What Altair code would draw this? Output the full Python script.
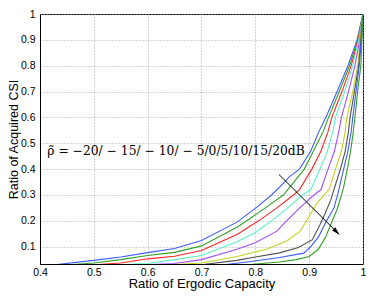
import altair as alt
import pandas as pd

# ---- data ----
series_names = ["-20dB", "-15dB", "-10dB", "-5dB", "0dB", "5dB", "10dB", "15dB", "20dB"]
series_colors = ["#3d5cff", "#33a02c", "#ff2626", "#5cf2c6", "#a64dff", "#c4d21f", "#505050", "#3d5cff", "#33a02c"]

x_m20 = [0.428, 0.5, 0.55, 0.6, 0.65, 0.7, 0.766, 0.803, 0.830, 0.850, 0.863, 0.882, 0.903, 0.918, 0.931, 0.952, 0.972, 0.989, 1.0]
y_m20 = [0.03, 0.047, 0.060, 0.077, 0.093, 0.124, 0.195, 0.253, 0.300, 0.340, 0.370, 0.400, 0.470, 0.545, 0.600, 0.700, 0.800, 0.900, 1.0]

x_m15 = [0.455, 0.5, 0.55, 0.6, 0.65, 0.7, 0.766, 0.784, 0.822, 0.852, 0.891, 0.908, 0.926, 0.936, 0.956, 0.975, 0.990, 1.0]
y_m15 = [0.03, 0.037, 0.050, 0.066, 0.078, 0.103, 0.175, 0.200, 0.255, 0.300, 0.400, 0.470, 0.545, 0.600, 0.700, 0.800, 0.900, 1.0]

x_m10 = [0.501, 0.55, 0.6, 0.65, 0.7, 0.766, 0.806, 0.840, 0.871, 0.882, 0.905, 0.922, 0.935, 0.942, 0.961, 0.978, 0.991, 1.0]
y_m10 = [0.03, 0.037, 0.053, 0.063, 0.085, 0.147, 0.200, 0.250, 0.300, 0.321, 0.400, 0.470, 0.545, 0.600, 0.700, 0.800, 0.900, 1.0]

x_m5 = [0.541, 0.6, 0.65, 0.7, 0.766, 0.800, 0.830, 0.860, 0.888, 0.903, 0.920, 0.934, 0.944, 0.949, 0.966, 0.981, 0.992, 1.0]
y_m5 = [0.03, 0.035, 0.050, 0.066, 0.119, 0.155, 0.200, 0.250, 0.300, 0.321, 0.400, 0.470, 0.545, 0.600, 0.700, 0.800, 0.900, 1.0]

x_0 = [0.596, 0.65, 0.7, 0.766, 0.800, 0.840, 0.858, 0.885, 0.909, 0.922, 0.935, 0.947, 0.955, 0.960, 0.973, 0.985, 0.994, 1.0]
y_0 = [0.03, 0.035, 0.050, 0.090, 0.115, 0.160, 0.200, 0.255, 0.300, 0.321, 0.400, 0.470, 0.545, 0.600, 0.700, 0.800, 0.900, 1.0]

x_5 = [0.644, 0.7, 0.766, 0.822, 0.858, 0.883, 0.895, 0.915, 0.928, 0.937, 0.949, 0.960, 0.967, 0.970, 0.981, 0.990, 0.995, 1.0]
y_5 = [0.03, 0.037, 0.062, 0.091, 0.122, 0.159, 0.200, 0.270, 0.300, 0.321, 0.400, 0.470, 0.545, 0.600, 0.700, 0.800, 0.900, 1.0]

x_10 = [0.699, 0.766, 0.800, 0.845, 0.880, 0.906, 0.920, 0.930, 0.940, 0.946, 0.958, 0.967, 0.973, 0.976, 0.984, 0.992, 0.996, 1.0]
y_10 = [0.03, 0.047, 0.060, 0.076, 0.097, 0.127, 0.185, 0.230, 0.280, 0.321, 0.400, 0.470, 0.545, 0.600, 0.700, 0.800, 0.900, 1.0]

x_15 = [0.742, 0.785, 0.845, 0.890, 0.903, 0.918, 0.931, 0.946, 0.954, 0.964, 0.972, 0.978, 0.981, 0.987, 0.993, 0.997, 1.0]
y_15 = [0.03, 0.041, 0.058, 0.075, 0.100, 0.140, 0.195, 0.250, 0.310, 0.400, 0.470, 0.545, 0.600, 0.700, 0.800, 0.900, 1.0]

x_20 = [0.784, 0.845, 0.876, 0.900, 0.917, 0.930, 0.943, 0.952, 0.960, 0.964, 0.971, 0.977, 0.982, 0.985, 0.990, 0.996, 0.998, 1.0]
y_20 = [0.03, 0.041, 0.050, 0.062, 0.090, 0.135, 0.200, 0.245, 0.300, 0.330, 0.400, 0.470, 0.545, 0.600, 0.700, 0.800, 0.900, 1.0]

x_ticks = [0.4, 0.5, 0.6, 0.7, 0.8, 0.9, 1.0]
y_ticks = [0.1, 0.2, 0.3, 0.4, 0.5, 0.6, 0.7, 0.8, 0.9, 1.0]

annot_text = "ρ\u0303 = −20/ − 15/ − 10/ − 5/0/5/10/15/20dB"
annot_pos = [0.4135, 0.47]
arrow_start = [0.844, 0.379]
arrow_end = [0.956, 0.147]

# ---- build table ----
xs = [x_m20, x_m15, x_m10, x_m5, x_0, x_5, x_10, x_15, x_20]
ys = [y_m20, y_m15, y_m10, y_m5, y_0, y_5, y_10, y_15, y_20]
rows = []
for name, xv, yv in zip(series_names, xs, ys):
    for i, (a, b) in enumerate(zip(xv, yv)):
        rows.append({"series": name, "x": a, "y": b, "i": i})
df = pd.DataFrame(rows)

xscale = alt.Scale(domain=[0.4, 1.0], nice=False, zero=False)
yscale = alt.Scale(domain=[0.033, 1.0], nice=False, zero=False)
lab = "datum.value == 1 ? '1' : format(datum.value, '.1f')"
x_axis = alt.Axis(values=x_ticks, labelExpr=lab, title="Ratio of Ergodic Capacity",
                  labelFlush=False, labelOverlap=False, labelPadding=3, titlePadding=0)
y_axis = alt.Axis(values=y_ticks, labelExpr=lab, title="Ratio of Acquired CSI",
                  labelOverlap=False, labelPadding=5, titleX=-19.5, titleFontSize=12.5)

def X():
    return alt.X("x:Q", scale=xscale, axis=x_axis)

def Y():
    return alt.Y("y:Q", scale=yscale, axis=y_axis)

lines = alt.Chart(df).mark_line(strokeWidth=1.1, clip=True).encode(
    x=X(), y=Y(),
    color=alt.Color("series:N", scale=alt.Scale(domain=series_names, range=series_colors), legend=None),
    detail="series:N",
    order="i:Q",
)

text_df = pd.DataFrame({"x": [annot_pos[0]], "y": [annot_pos[1]], "t": [annot_text]})
text = alt.Chart(text_df).mark_text(
    align="left", baseline="middle", font="DejaVu Serif", fontSize=12.3, color="black"
).encode(x=X(), y=Y(), text="t:N")

arrow_df = pd.DataFrame({"x": [arrow_start[0]], "y": [arrow_start[1]],
                         "x2": [arrow_end[0]], "y2": [arrow_end[1]]})
arrow_line = alt.Chart(arrow_df).mark_rule(color="black", strokeWidth=1).encode(
    x=X(), y=Y(), x2="x2:Q", y2="y2:Q")
head_df = pd.DataFrame({"x": [arrow_end[0]], "y": [arrow_end[1]]})
arrow_head = alt.Chart(head_df).mark_point(
    shape="M0,0L0.45,1.6L-0.45,1.6Z", filled=True, color="black", opacity=1,
    size=100, angle=135.5
).encode(x=X(), y=Y())

chart = alt.layer(lines, text, arrow_line, arrow_head).properties(
    width=323, height=250,
    autosize="none",
    padding={"left": 32, "top": 6, "right": 3, "bottom": 28},
).configure_view(
    stroke="black", strokeWidth=1
).configure_axis(
    labelFont="Liberation Sans", labelFontSize=10.5, labelColor="black",
    titleFont="Liberation Sans", titleFontSize=13, titleFontWeight="normal", titleColor="black",
    grid=True, gridDash=[1, 2], gridColor="#a8a8a8", gridOpacity=1, gridWidth=1,
    domainColor="black", ticks=False, labelOverlap=False,
)

chart.save("out.html", embed_options={"renderer": "svg", "actions": False})
